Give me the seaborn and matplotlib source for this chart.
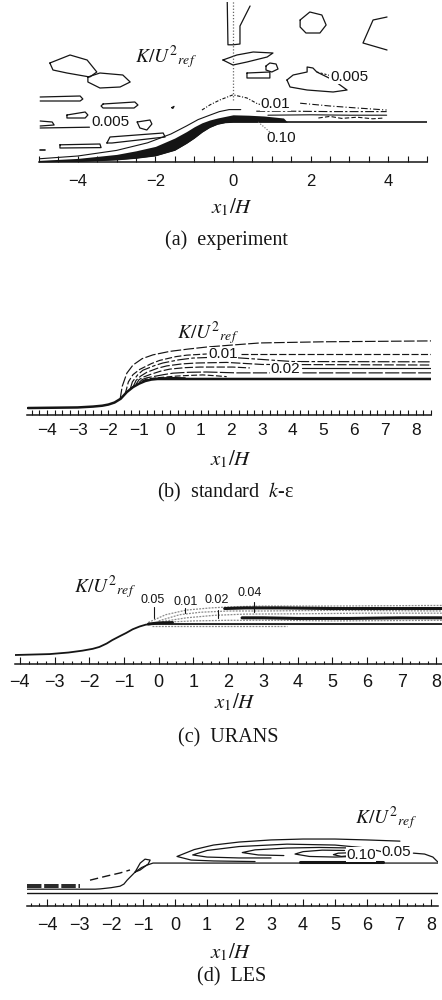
import numpy as np
import matplotlib
matplotlib.use("Agg")
import matplotlib.pyplot as plt
import seaborn as sns

# ================= DATA (x1/H, y/H) =================
# ---- panel (a) experiment ----
a_hill_x = [-5.0, -4.0, -3.0, -2.5, -2.0, -1.5, -1.2, -1.0, -0.8, -0.6, -0.4, -0.2, 0.0, 0.4, 0.8, 1.3, 1.4, 5.0]
a_hill_y = [0.0, 0.02, 0.06, 0.10, 0.16, 0.30, 0.47, 0.60, 0.75, 0.87, 0.95, 0.99, 1.0, 1.0, 1.0, 1.0, 1.0, 1.0]
a_band_top = [0.04, 0.09, 0.19, 0.28, 0.39, 0.60, 0.76, 0.88, 0.98, 1.05, 1.10, 1.14, 1.18, 1.17, 1.15, 1.10, 1.0, 1.0]
a_outer_x = [-5.0, -4.0, -3.0, -2.2, -1.6, -1.2, -0.9, -0.6, -0.35, -0.1, 0.2]
a_outer_y = [0.08, 0.15, 0.29, 0.48, 0.70, 0.90, 1.06, 1.17, 1.26, 1.31, 1.31]
a_hump_x = [-0.8, -0.59, -0.34, 0.0, 0.36, 0.64, 0.85]
a_hump_y = [1.30, 1.43, 1.55, 1.68, 1.60, 1.45, 1.42]
a_c001_x = [1.73, 2.5, 3.2, 3.96]
a_c001_y = [1.47, 1.40, 1.35, 1.30]
a_top1_x = [0.6, 1.5, 2.5, 3.96]
a_top1_y = [1.27, 1.27, 1.26, 1.26]
a_top2_x = [0.9, 2.0, 3.0, 3.96]
a_top2_y = [1.17, 1.18, 1.17, 1.17]
a_top3_x = [2.2, 2.5, 2.8, 3.2, 3.6, 3.9]
a_top3_y = [1.10, 1.14, 1.09, 1.12, 1.08, 1.10]
a_tube_x = [-0.15, -0.13, 0.0, 0.18, 0.18, 0.44]
a_tube_y = [4.1, 2.93, 2.93, 2.95, 3.40, 3.90]
a_open_x = [3.97, 3.61, 3.35, 3.97]
a_open_y = [3.625, 3.55, 2.975, 2.80]
a_blobs = [
    ([-4.72, -4.20, -3.76, -3.51, -3.69, -4.28, -4.64, -4.72], [2.475, 2.675, 2.55, 2.25, 2.125, 2.225, 2.30, 2.475]),
    ([-3.74, -3.43, -2.84, -2.65, -2.91, -3.43, -3.74, -3.74], [2.125, 2.225, 2.175, 2.0, 1.875, 1.85, 2.0, 2.125]),
    ([-0.26, 0.10, 0.52, 1.03, 0.88, 0.36, 0.0, -0.26], [2.55, 2.675, 2.75, 2.725, 2.625, 2.50, 2.425, 2.55]),
    ([0.85, 0.95, 1.11, 1.16, 1.0, 0.85, 0.85], [2.40, 2.475, 2.45, 2.325, 2.25, 2.30, 2.40]),
    ([0.36, 0.95, 0.95, 0.36, 0.36], [2.225, 2.25, 2.10, 2.10, 2.225]),
    ([1.73, 1.98, 2.29, 2.40, 2.24, 1.88, 1.73, 1.73], [3.55, 3.75, 3.675, 3.425, 3.225, 3.225, 3.375, 3.55]),
    ([1.39, 1.55, 1.91, 1.91, 2.06, 2.16, 2.58, 2.94, 2.58, 1.91, 1.47, 1.39], [2.05, 2.175, 2.25, 2.375, 2.35, 2.25, 2.05, 1.80, 1.75, 1.80, 1.875, 2.05]),
    ([-4.97, -3.94, -3.87, -3.94, -4.97], [1.625, 1.65, 1.575, 1.525, 1.525]),
    ([-3.35, -2.53, -2.45, -2.55, -3.35, -3.40, -3.35], [1.45, 1.50, 1.425, 1.35, 1.35, 1.40, 1.45]),
    ([-4.28, -3.81, -3.74, -3.81, -4.28, -4.28], [1.175, 1.25, 1.175, 1.10, 1.10, 1.175]),
    ([-4.97, -4.66, -4.61, -4.97], [1.025, 1.0, 0.925, 0.90]),
    ([-2.47, -2.14, -2.09, -2.22, -2.40, -2.47], [1.0, 1.05, 0.95, 0.80, 0.85, 1.0]),
    ([-3.25, -3.17, -1.80, -1.75, -3.12, -3.25], [0.475, 0.625, 0.725, 0.625, 0.475, 0.475]),
    ([-4.46, -3.43, -3.40, -4.46, -4.46], [0.43, 0.45, 0.36, 0.35, 0.43]),
    ([-1.58, -1.52, -1.55, -1.58], [1.36, 1.39, 1.34, 1.36]),
]
a_line005_x = [-4.97, -3.7]
a_line005_y = [0.85, 0.87]
a_dash_x = [-4.97, -4.85]
a_dash_y = [0.30, 0.30]
a_ticks_major = [-4, -2, 0, 2, 4]
a_tick_labels = ["\u22124", "\u22122", "0", "2", "4"]

# ---- panel (b) standard k-eps ----
b_hill_x = [-4.62, -3.0, -2.5, -2.2, -2.0, -1.8, -1.6, -1.4, -1.2, -1.0, -0.8, -0.6, -0.4, 8.49]
b_hill_y = [0.0, 0.02, 0.05, 0.08, 0.12, 0.19, 0.32, 0.55, 0.72, 0.84, 0.93, 0.98, 1.0, 1.0]
b_contours = [
    ([-1.62, -1.55, -1.4, -1.2, -0.9, -0.55, 0.0, 0.6, 1.2, 2.05, 2.93, 5.0, 8.5],
     [0.30, 0.75, 1.20, 1.48, 1.70, 1.83, 1.95, 2.03, 2.10, 2.17, 2.24, 2.28, 2.31], (0, (9, 2))),
    ([-1.45, -1.35, -1.2, -0.98, -0.6, -0.33, 0.2, 0.55, 1.2],
     [0.50, 0.90, 1.15, 1.33, 1.53, 1.64, 1.77, 1.82, 1.86], (0, (6, 2))),
    ([2.3, 4.0, 6.0, 8.5], [1.86, 1.86, 1.86, 1.86], (0, (6, 2))),
    ([-1.3, -1.22, -1.05, -0.88, -0.5, -0.23, 0.3, 0.75, 1.5, 2.18, 4.0, 8.5],
     [0.62, 0.90, 1.14, 1.30, 1.46, 1.55, 1.66, 1.72, 1.75, 1.73, 1.60, 1.59], (0, (10, 2, 3, 2))),
    ([-1.2, -1.1, -0.95, -0.75, -0.4, -0.1, 0.4, 0.88, 1.85, 3.0, 8.5],
     [0.72, 0.95, 1.10, 1.23, 1.37, 1.45, 1.52, 1.55, 1.57, 1.50, 1.48], (0, (8, 2))),
    ([-1.1, -1.0, -0.85, -0.65, -0.3, 0.0, 0.5, 0.98, 2.05, 2.6],
     [0.82, 0.98, 1.07, 1.15, 1.27, 1.34, 1.39, 1.41, 1.41, 1.38], (0, (7, 2))),
    ([4.3, 6.0, 8.5], [1.38, 1.38, 1.38], "-"),
    ([-1.0, -0.9, -0.75, -0.55, -0.2, 0.1, 0.6, 1.2, 2.18, 3.0, 5.0, 8.5],
     [0.88, 0.98, 1.04, 1.08, 1.15, 1.20, 1.23, 1.24, 1.21, 1.21, 1.21, 1.21], (0, (12, 2))),
    ([-0.9, -0.75, -0.42, 0.0, 0.23, 0.6, 1.07, 1.5, 1.85],
     [0.93, 1.00, 1.04, 1.08, 1.10, 1.12, 1.14, 1.11, 1.08], (0, (5, 2))),
    ([-0.8, -0.6, -0.3, 0.1, 0.5], [0.95, 1.01, 1.04, 1.05, 1.04], "-"),
]

# ---- panel (c) URANS ----
c_hill_x = [-4.14, -3.14, -2.6, -2.2, -1.9, -1.71, -1.5, -1.34, -1.1, -0.94, -0.75, -0.55, -0.37, -0.1, 8.2]
c_hill_y = [0.0, 0.03, 0.08, 0.14, 0.20, 0.26, 0.37, 0.48, 0.62, 0.71, 0.83, 0.92, 0.98, 1.0, 1.0]
c_grey = [
    ([-0.3, 0.2, 0.8, 1.5, 2.2, 3.0, 5.0, 8.2], [1.05, 1.30, 1.45, 1.52, 1.56, 1.58, 1.58, 1.60]),
    ([0.0, 0.6, 1.2, 2.0, 3.0, 5.0, 8.2], [1.10, 1.30, 1.38, 1.42, 1.42, 1.44, 1.42]),
    ([0.1, 0.8, 1.6, 2.5, 4.0, 6.0, 8.2], [1.08, 1.20, 1.28, 1.32, 1.33, 1.35, 1.35]),
    ([0.0, 1.0, 2.0, 3.5, 5.0, 8.2], [1.05, 1.10, 1.12, 1.12, 1.10, 1.12]),
    ([-0.2, 1.0, 2.0, 3.7], [0.95, 0.95, 0.95, 0.95]),
]
c_dark = [
    ([1.9, 2.5, 3.5, 5.0, 6.5, 8.2], [1.50, 1.52, 1.52, 1.50, 1.50, 1.50]),
    ([2.4, 3.0, 4.0, 5.5, 7.0, 8.2], [1.20, 1.20, 1.18, 1.18, 1.20, 1.20]),
]
c_labels = ["0.05", "0.01", "0.02", "0.04"]
c_label_x = [-0.17, 0.77, 1.66, 2.63]
c_label_y = [1.77, 1.71, 1.77, 2.00]
c_leader_x = [-0.14, 0.77, 1.71, 2.74]
c_leader_top = [1.55, 1.52, 1.45, 1.71]
c_leader_bot = [1.19, 1.35, 1.19, 1.39]

# ---- panel (d) LES ----
d_hill_x = [-4.63, -2.5, -2.34, -2.0, -1.72, -1.6, -1.5, -1.25, -1.05, -0.88, -0.69, 8.22]
d_hill_y = [0.13, 0.13, 0.14, 0.18, 0.23, 0.30, 0.43, 0.70, 0.85, 0.93, 1.0, 1.0]
d_left = [([-4.63, -2.97], [0.27, 0.27]), ([-4.63, -2.97], [0.20, 0.20])]
d_slope_x = [-2.66, -2.13, -1.72, -1.41]
d_slope_y = [0.43, 0.57, 0.67, 0.77]
d_loop_x = [-1.25, -1.09, -0.94, -0.78, -0.84, -1.09, -1.25]
d_loop_y = [0.70, 1.00, 1.13, 1.10, 0.97, 0.77, 0.70]
d_lenses = [
    ([7.03, 6.0, 5.0, 4.0, 3.0, 2.0, 1.2, 0.6, 0.06, 0.5, 1.2, 2.5], [1.73, 1.77, 1.80, 1.80, 1.77, 1.70, 1.60, 1.45, 1.22, 1.10, 1.07, 1.05]),
    ([6.45, 6.0, 5.0, 3.5, 2.0, 1.0, 0.55, 1.0, 2.0, 3.0], [1.38, 1.50, 1.60, 1.63, 1.55, 1.42, 1.27, 1.20, 1.17, 1.17]),
    ([5.6, 4.5, 3.5, 2.5, 2.1, 2.6, 3.4], [1.50, 1.52, 1.50, 1.44, 1.35, 1.27, 1.25]),
    ([5.3, 4.6, 4.0, 3.75, 4.2, 5.0, 5.6], [1.42, 1.43, 1.38, 1.30, 1.22, 1.20, 1.22]),
    ([5.4, 5.1, 4.95, 5.2, 5.4], [1.34, 1.33, 1.28, 1.22, 1.24]),
    ([7.45, 7.8, 8.06, 8.22], [1.33, 1.30, 1.20, 1.03]),
]
d_wall_x = [3.9, 5.0, 6.5]
d_wall_y = [1.04, 1.04, 1.04]

int_ticks = [-4, -3, -2, -1, 0, 1, 2, 3, 4, 5, 6, 7, 8]
int_labels = ["\u22124", "\u22123", "\u22122", "\u22121", "0", "1", "2", "3", "4", "5", "6", "7", "8"]

# ================= STYLE =================
sns.set_theme(style="white")
plt.rcParams["font.family"] = ["Liberation Sans", "DejaVu Sans"]
plt.rcParams["mathtext.fontset"] = "stix"

INK = "#151515"
W, H = 442, 1000
fig = plt.figure(figsize=(4.42, 10), dpi=100)
fig.patch.set_facecolor("white")


def px_axes(left, right, top, bottom):
    return fig.add_axes([left / W, 1 - bottom / H, (right - left) / W, (bottom - top) / H])


def curve(ax, xs, ys, lw=0.9, ls="-", color=INK, z=3):
    sns.lineplot(x=xs, y=ys, sort=False, estimator=None, ax=ax, color=color,
                 linewidth=lw, linestyle=ls, zorder=z, legend=False)


def setup(ax, xlim, ylim, major, labels, minor, maj_len, min_len, pad, fs):
    ax.set_xlim(xlim)
    ax.set_ylim(ylim)
    for s in ["top", "right", "left"]:
        ax.spines[s].set_visible(False)
    ax.spines["bottom"].set_linewidth(1.1)
    ax.spines["bottom"].set_color(INK)
    ax.set_yticks([])
    ax.set_xticks(major)
    ax.set_xticklabels(labels)
    ax.set_xticks(minor, minor=True)
    ax.tick_params(axis="x", which="major", direction="in", length=maj_len, width=0.8,
                   pad=pad, labelsize=fs, colors=INK, bottom=True)
    ax.tick_params(axis="x", which="minor", direction="in", length=min_len, width=0.8,
                   colors=INK, bottom=True)
    ax.set_xlabel("")
    ax.set_ylabel("")
    ax.patch.set_alpha(0)
    ax.grid(False)


def ftext(xp, yp, s, **kw):
    fig.text(xp / W, 1 - yp / H, s, ha="center", va="center", color=INK, **kw)


KLABEL = r"$K/U^{2}{}_{ref}$"
XLABEL = r"$x_{\mathit{1}}/H$"
lbl_box = dict(facecolor="white", edgecolor="none", pad=0.3)
CAP = dict(fontsize=14.5, family="Liberation Serif")

# ================= PANEL (a) =================
ax = px_axes(39, 427, 2, 162)
curve(ax, a_hill_x, a_hill_y, lw=1.2)
ax.fill_between(a_hill_x, a_hill_y, a_band_top, color=INK, lw=0, zorder=2)
curve(ax, a_outer_x, a_outer_y, lw=0.8)
curve(ax, a_hump_x, a_hump_y, lw=0.8, ls=(0, (3, 1.5, 1, 1.5)))
curve(ax, a_c001_x, a_c001_y, lw=0.8, ls=(0, (6, 2, 1, 2)))
curve(ax, a_top1_x, a_top1_y, lw=0.8, ls=(0, (8, 2, 2, 2)))
curve(ax, a_top2_x, a_top2_y, lw=0.8)
curve(ax, a_top3_x, a_top3_y, lw=0.8, ls=(0, (4, 2)))
curve(ax, a_tube_x, a_tube_y, lw=0.9)
curve(ax, a_open_x, a_open_y, lw=0.9)
for bx, by in a_blobs:
    curve(ax, bx, by, lw=0.9)
curve(ax, a_line005_x, a_line005_y, lw=0.9)
curve(ax, a_dash_x, a_dash_y, lw=1.2)
curve(ax, [0.0, 0.0], [1.55, 4.1], lw=0.9, ls=(0, (1, 1.5)), color="#666666")
curve(ax, [0.65, 0.95], [1.0, 0.75], lw=0.8, ls=(0, (1, 1.5)), color="#666666")
curve(ax, [2.16, 2.55], [2.25, 2.15], lw=0.8, ls=(0, (2, 1.5)))
ax.text(-2.53, 2.5, KLABEL, fontsize=14, ha="left", va="baseline", color=INK)
ax.text(2.99, 2.13, "0.005", fontsize=11, ha="center", va="center", color=INK, bbox=lbl_box)
ax.text(1.1, 1.45, "0.01", fontsize=11, ha="center", va="center", color=INK, bbox=lbl_box, zorder=5)
ax.text(-3.17, 1.0, "0.005", fontsize=11, ha="center", va="center", color=INK, bbox=lbl_box, zorder=5)
ax.text(1.24, 0.6, "0.10", fontsize=11, ha="center", va="center", color=INK)
setup(ax, (-5.0, 5.0), (0.0, 4.0), a_ticks_major, a_tick_labels,
      [v for v in np.arange(-5.0, 5.01, 0.5) if v not in a_ticks_major], 4, 4, 9, 12)
ftext(232, 207, XLABEL, fontsize=15)
ftext(226, 240, "(a)  experiment", **CAP)

# ================= PANEL (b) =================
ax = px_axes(27, 431, 320, 415)
curve(ax, b_hill_x, b_hill_y, lw=1.8)
for cx, cy, ls in b_contours:
    curve(ax, cx, cy, lw=0.85, ls=ls)
ax.text(0.23, 2.41, KLABEL, fontsize=14, ha="left", va="baseline", color=INK)
ax.text(1.72, 1.86, "0.01", fontsize=11, ha="center", va="center", color=INK, bbox=lbl_box, zorder=5)
ax.text(3.77, 1.34, "0.02", fontsize=11, ha="center", va="center", color=INK, bbox=lbl_box, zorder=5)
setup(ax, (-4.65, 8.49), (-0.24, 3.03), int_ticks, int_labels,
      [v for v in np.arange(-4.5, 8.51, 0.25) if v not in int_ticks], 3.5, 3.5, 6, 12.5)
ftext(231, 459, XLABEL, fontsize=15)
ftext(226, 492, r"(b)  standard  $k$-ε", **CAP)

# ================= PANEL (c) =================
ax = px_axes(15, 442, 580, 664)
curve(ax, c_hill_x, c_hill_y, lw=1.3)
for gx, gy in c_grey:
    curve(ax, gx, gy, lw=0.9, ls=(0, (1.5, 1)), color="#8a8a8a")
for kx, ky in c_dark:
    curve(ax, kx, ky, lw=2.2)
curve(ax, [-0.3, 0.0, 0.4], [1.0, 1.04, 1.05], lw=2.0)
for lab, lx, ly, qx, qt, qb in zip(c_labels, c_label_x, c_label_y, c_leader_x, c_leader_top, c_leader_bot):
    ax.text(lx, ly, lab, fontsize=9, ha="center", va="center", color=INK)
    curve(ax, [qx, qx], [qt, qb], lw=0.8)
ax.text(-2.43, 2.03, KLABEL, fontsize=14, ha="left", va="baseline", color=INK)
setup(ax, (-4.14, 8.16), (-0.29, 2.42), int_ticks, int_labels,
      [v for v in np.arange(-4.0, 8.16, 0.25) if v not in int_ticks], 5, 2.5, 7, 13)
ftext(235, 702, XLABEL, fontsize=15)
ftext(228, 738, "(c)  URANS", **CAP)

# ================= PANEL (d) =================
ax = px_axes(27, 438, 800, 906)
curve(ax, [-4.63, 8.22], [0.0, 0.0], lw=1.0)
curve(ax, d_hill_x, d_hill_y, lw=0.9)
for lx_, ly_ in d_left:
    curve(ax, lx_, ly_, lw=1.3, ls=(0, (8, 1.5)))
curve(ax, d_slope_x, d_slope_y, lw=1.0, ls=(0, (6, 3)))
curve(ax, d_loop_x, d_loop_y, lw=0.9)
for lx_, ly_ in d_lenses:
    curve(ax, lx_, ly_, lw=0.9)
curve(ax, d_wall_x, d_wall_y, lw=2.2)
ax.text(5.81, 1.27, "0.10", fontsize=11, ha="center", va="center", color=INK, bbox=lbl_box, zorder=5)
ax.text(6.9, 1.36, "0.05", fontsize=11, ha="center", va="center", color=INK, bbox=lbl_box, zorder=5)
ax.text(5.63, 2.33, KLABEL, fontsize=14, ha="left", va="baseline", color=INK)
setup(ax, (-4.63, 8.22), (-0.43, 3.1), int_ticks, int_labels,
      [v for v in np.arange(-4.5, 8.01, 0.25) if v not in int_ticks], 5, 2.5, 8, 13)
ftext(231, 952, XLABEL, fontsize=15)
ftext(232, 977, "(d)  LES", **CAP)

fig.savefig("out.png", dpi=100, facecolor="white")
